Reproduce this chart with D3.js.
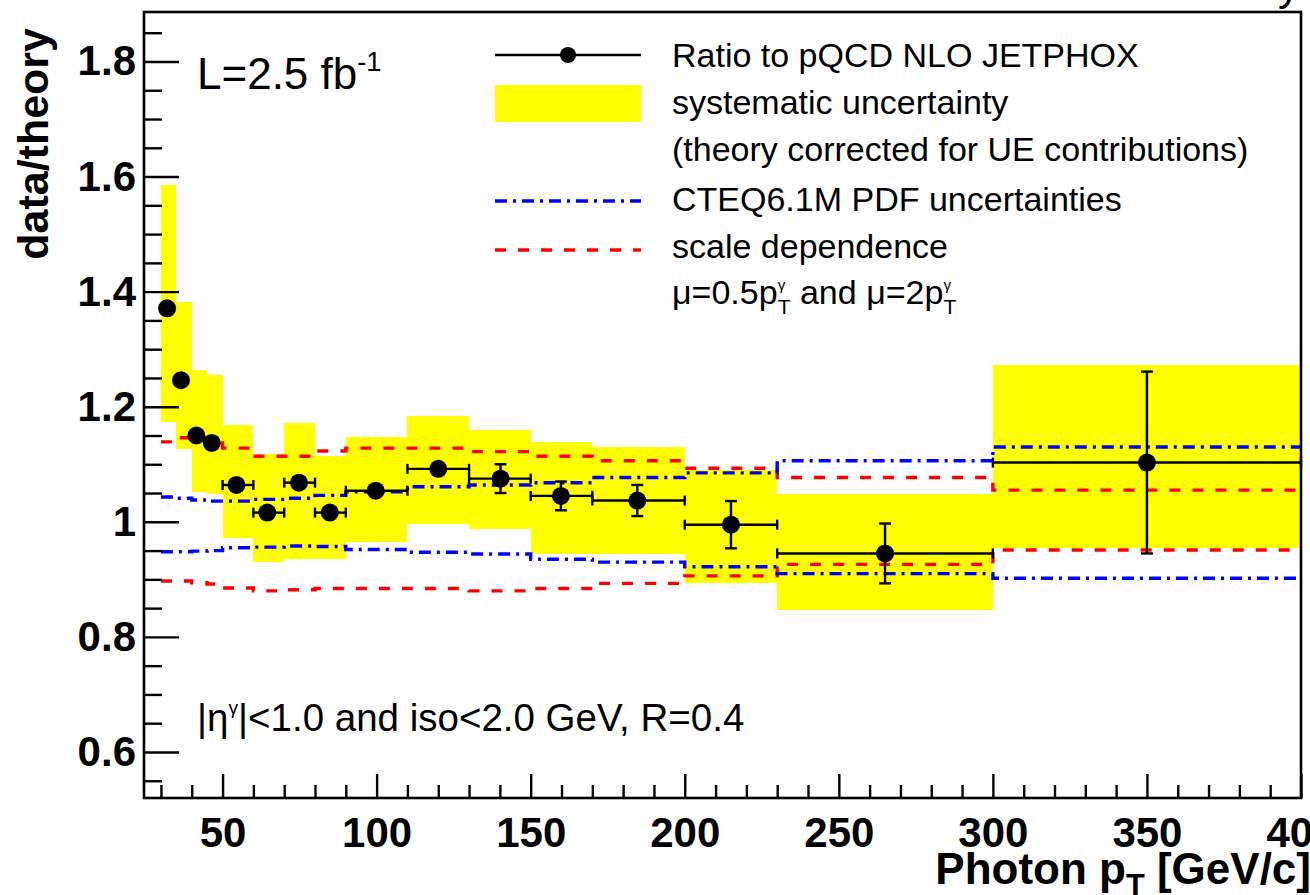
<!DOCTYPE html>
<html>
<head>
<meta charset="utf-8">
<script src="https://cdn.jsdelivr.net/npm/d3@7"></script>
<style>
  html, body { margin: 0; padding: 0; background: #fff; overflow: hidden; }
  text { font-family: "Liberation Sans", Arial, Helvetica, sans-serif; white-space: pre; fill: #000; }
</style>
</head>
<body>
<svg id="chart" width="1310" height="895"></svg>
<script>
// ---------------- data ----------------
const binLo   = [30, 35, 40, 45, 50, 60, 70, 80, 90, 110, 130, 150, 170, 200, 230, 300];
const binHi   = [35, 40, 45, 50, 60, 70, 80, 90, 110, 130, 150, 170, 200, 230, 300, 400];
const ptMean  = [32, 36.5, 41.5, 46.5, 54.5, 64.5, 74.8, 84.8, 99.7, 120, 140.2, 159.8, 184.6, 215, 265, 350];
const ratio   = [1.371, 1.246, 1.150, 1.137, 1.064, 1.016, 1.068, 1.016, 1.054, 1.092, 1.075, 1.045, 1.037, 0.995, 0.945, 1.103];
const statErr = [0.006, 0.006, 0.006, 0.006, 0.008, 0.008, 0.012, 0.008, 0.010, 0.012, 0.025, 0.025, 0.027, 0.041, 0.052, 0.158];
const sysHi   = [1.586, 1.382, 1.264, 1.256, 1.168, 1.118, 1.172, 1.114, 1.147, 1.184, 1.160, 1.139, 1.130, 1.090, 1.048, 1.272];
const sysLo   = [1.173, 1.126, 1.051, 1.048, 0.972, 0.930, 0.935, 0.935, 0.965, 0.997, 0.988, 0.944, 0.944, 0.893, 0.846, 0.955];
const pdfHi   = [1.043, 1.041, 1.038, 1.036, 1.036, 1.039, 1.041, 1.046, 1.052, 1.061, 1.064, 1.068, 1.077, 1.085, 1.106, 1.130];
const pdfLo   = [0.948, 0.948, 0.949, 0.950, 0.955, 0.956, 0.958, 0.957, 0.952, 0.947, 0.944, 0.935, 0.930, 0.922, 0.910, 0.902];
const scaleHi = [1.139, 1.146, 1.142, 1.137, 1.128, 1.114, 1.114, 1.123, 1.128, 1.128, 1.122, 1.114, 1.106, 1.093, 1.077, 1.055];
const scaleLo = [0.897, 0.897, 0.894, 0.892, 0.885, 0.880, 0.882, 0.884, 0.884, 0.884, 0.880, 0.884, 0.893, 0.906, 0.926, 0.951];

const xMajorTicks = [50, 100, 150, 200, 250, 300, 350, 400];
const xMinorTicks = [30, 40, 60, 70, 80, 90, 110, 120, 130, 140, 160, 170, 180, 190, 210, 220, 230, 240, 260, 270, 280, 290, 310, 320, 330, 340, 360, 370, 380, 390];
const yMajorTicks = [0.6, 0.8, 1.0, 1.2, 1.4, 1.6, 1.8];
const yMinorTicks = [0.55, 0.65, 0.7, 0.75, 0.85, 0.9, 0.95, 1.05, 1.1, 1.15, 1.25, 1.3, 1.35, 1.45, 1.5, 1.55, 1.65, 1.7, 1.75, 1.85];

const legendLabels = ["Ratio to pQCD NLO JETPHOX", "systematic uncertainty", "(theory corrected for UE contributions)", "CTEQ6.1M PDF uncertainties", "scale dependence"];

// ---------------- layout ----------------
const svg = d3.select("#chart");
const X0 = 144, X1 = 1301, Y0 = 12, Y1 = 798;
const x = d3.scaleLinear().domain([24.5, 400]).range([X0, X1]);
const y = d3.scaleLinear().domain([0.52, 1.886]).range([Y1, Y0]);

const BLUE = "#0000ff", RED = "#ff0000", YEL = "#ffff00";
const DASHDOT = "12,6,3,6", DASH = "11,12";
const MR = 9;

// rich text helper: returns width
function rich(g, x0, yb, size, weight, parts) {
  let cx = x0;
  parts.forEach(p => {
    if (p.stack) {
      const s1 = size * p.supScale, s2 = size * p.subScale;
      const a = g.append("text").attr("x", cx).attr("y", yb - size * 0.42)
        .style("font-size", s1 + "px").style("font-weight", weight).text(p.sup);
      const b = g.append("text").attr("x", cx).attr("y", yb + size * 0.28)
        .style("font-size", s2 + "px").style("font-weight", weight).text(p.sub);
      cx += Math.max(a.node().getComputedTextLength(), b.node().getComputedTextLength());
    } else {
      const s = size * (p.scale || 1);
      const t = g.append("text").attr("x", cx).attr("y", yb + (p.dy || 0) * size)
        .style("font-size", s + "px").style("font-weight", weight).text(p.t);
      cx += t.node().getComputedTextLength();
    }
  });
  return cx - x0;
}

// ---------------- systematic boxes ----------------
const bins = binLo.map((lo, i) => ({lo, hi: binHi[i], pt: ptMean[i], r: ratio[i], e: statErr[i], sh: sysHi[i], sl: sysLo[i]}));

svg.append("g").selectAll("rect").data(bins).join("rect")
  .attr("x", d => x(d.lo)).attr("width", d => x(d.hi) - x(d.lo))
  .attr("y", d => y(d.sh)).attr("height", d => y(d.sl) - y(d.sh))
  .attr("fill", YEL).attr("shape-rendering", "crispEdges");

// ---------------- theory step lines ----------------
const stepLine = d3.line().x(d => x(d[0])).y(d => y(d[1])).curve(d3.curveStepAfter);
function stepData(vals) {
  const pts = binLo.map((lo, i) => [lo, vals[i]]);
  pts.push([binHi[binHi.length - 1], vals[vals.length - 1]]);
  return pts;
}
const theory = [
  {vals: scaleHi, color: RED, dash: DASH},
  {vals: scaleLo, color: RED, dash: DASH},
  {vals: pdfHi, color: BLUE, dash: DASHDOT},
  {vals: pdfLo, color: BLUE, dash: DASHDOT}
];
svg.append("g").selectAll("path").data(theory).join("path")
  .attr("d", d => stepLine(stepData(d.vals)))
  .attr("fill", "none").attr("stroke", d => d.color).attr("stroke-width", 3.4)
  .attr("stroke-dasharray", d => d.dash);

// ---------------- data points ----------------
const gp = svg.append("g").attr("stroke", "#000").attr("stroke-width", 2.4);
const cap = 6;
bins.forEach(d => {
  const cx = x(d.pt), cy = y(d.r);
  if (x(d.hi) - x(d.lo) > 2 * MR + 6) {
    gp.append("line").attr("x1", x(d.lo)).attr("x2", x(d.hi)).attr("y1", cy).attr("y2", cy);
    gp.append("line").attr("x1", x(d.lo)).attr("x2", x(d.lo)).attr("y1", cy - 5).attr("y2", cy + 5);
    gp.append("line").attr("x1", x(d.hi)).attr("x2", x(d.hi)).attr("y1", cy - 5).attr("y2", cy + 5);
  }
  const yt = y(d.r + d.e), ybm = y(d.r - d.e);
  if (ybm - yt > 2 * MR + 2) {
    gp.append("line").attr("x1", cx).attr("x2", cx).attr("y1", yt).attr("y2", ybm);
    gp.append("line").attr("x1", cx - cap).attr("x2", cx + cap).attr("y1", yt).attr("y2", yt);
    gp.append("line").attr("x1", cx - cap).attr("x2", cx + cap).attr("y1", ybm).attr("y2", ybm);
  }
});
svg.append("g").selectAll("circle").data(bins).join("circle")
  .attr("cx", d => x(d.pt)).attr("cy", d => y(d.r)).attr("r", MR).attr("fill", "#000");

// ---------------- axes ----------------
const axStyle = g => {
  g.select(".domain").remove();
  g.selectAll(".tick line").attr("stroke", "#000").attr("stroke-width", 2.4);
};
svg.append("g").attr("transform", `translate(${X0},0)`)
  .call(d3.axisLeft(y).tickValues(yMajorTicks).tickSizeInner(-35).tickSizeOuter(0).tickPadding(8)
    .tickFormat(d => d3.format("~g")(d)))
  .call(axStyle)
  .call(g => g.selectAll("text").style("font-size", "42px").style("font-weight", "bold").attr("fill", "#000"));
svg.append("g").attr("transform", `translate(${X0},0)`)
  .call(d3.axisLeft(y).tickValues(yMinorTicks).tickSizeInner(-18).tickSizeOuter(0).tickFormat(""))
  .call(axStyle);
svg.append("g").attr("transform", `translate(0,${Y1})`)
  .call(d3.axisBottom(x).tickValues(xMajorTicks).tickSizeInner(-24).tickSizeOuter(0).tickPadding(19)
    .tickFormat(d3.format("d")))
  .call(axStyle)
  .call(g => g.selectAll("text").style("font-size", "42px").style("font-weight", "bold").attr("fill", "#000"));
svg.append("g").attr("transform", `translate(0,${Y1})`)
  .call(d3.axisBottom(x).tickValues(xMinorTicks).tickSizeInner(-13).tickSizeOuter(0).tickFormat(""))
  .call(axStyle);

// frame
svg.append("rect").attr("x", X0).attr("y", Y0).attr("width", X1 - X0).attr("height", Y1 - Y0)
  .attr("fill", "none").attr("stroke", "#000").attr("stroke-width", 2.6);

// axis titles
svg.append("text").attr("transform", "translate(48,28) rotate(-90)").attr("text-anchor", "end")
  .style("font-size", "43px").style("font-weight", "bold").text("data/theory");
const xt = svg.append("g");
const xtw = rich(xt, 0, 884, 44, "bold", [
  {t: "Photon p"}, {t: "T", scale: 0.7, dy: 0.28}, {t: " [GeV/c]"}
]);
xt.attr("transform", `translate(${1311 - xtw},0)`);

// partially visible title at top right (only the descender shows)
svg.append("text").attr("x", 1300).attr("y", 0).attr("text-anchor", "end")
  .style("font-size", "44px").text("Preliminary");

// annotations
rich(svg.append("g"), 197, 89, 44, "normal", [
  {t: "L=2.5 fb"}, {t: "-1", scale: 0.62, dy: -0.42}
]);
rich(svg.append("g"), 197, 731, 38.5, "normal", [
  {t: "|η"}, {t: "γ", scale: 0.5, dy: -0.45}, {t: "|<1.0 and iso<2.0 GeV, R=0.4"}
]);

// ---------------- legend ----------------
const lg = svg.append("g");
const LX0 = 495, LX1 = 641, TX = 672, LS = 34;
lg.append("line").attr("x1", LX0).attr("x2", LX1).attr("y1", 55).attr("y2", 55).attr("stroke", "#000").attr("stroke-width", 2.4);
lg.append("circle").attr("cx", (LX0 + LX1) / 2).attr("cy", 55).attr("r", 8).attr("fill", "#000");
lg.append("text").attr("x", TX).attr("y", 67).style("font-size", LS + "px").text(legendLabels[0]);
lg.append("rect").attr("x", LX0).attr("y", 85).attr("width", LX1 - LX0).attr("height", 37).attr("fill", YEL);
lg.append("text").attr("x", TX).attr("y", 114).style("font-size", LS + "px").text(legendLabels[1]);
lg.append("text").attr("x", TX).attr("y", 161).style("font-size", LS + "px").text(legendLabels[2]);
lg.append("line").attr("x1", LX0).attr("x2", LX1).attr("y1", 201).attr("y2", 201)
  .attr("stroke", BLUE).attr("stroke-width", 3.4).attr("stroke-dasharray", DASHDOT);
lg.append("text").attr("x", TX).attr("y", 211).style("font-size", LS + "px").text(legendLabels[3]);
lg.append("line").attr("x1", LX0).attr("x2", LX1).attr("y1", 250).attr("y2", 250)
  .attr("stroke", RED).attr("stroke-width", 3.4).attr("stroke-dasharray", DASH);
lg.append("text").attr("x", TX).attr("y", 258).style("font-size", LS + "px").text(legendLabels[4]);
rich(lg.append("g"), TX, 304, LS, "normal", [
  {t: "μ=0.5p"}, {stack: true, sup: "γ", sub: "T", supScale: 0.45, subScale: 0.62},
  {t: " and μ=2p"}, {stack: true, sup: "γ", sub: "T", supScale: 0.45, subScale: 0.62}
]);
</script>
</body>
</html>
